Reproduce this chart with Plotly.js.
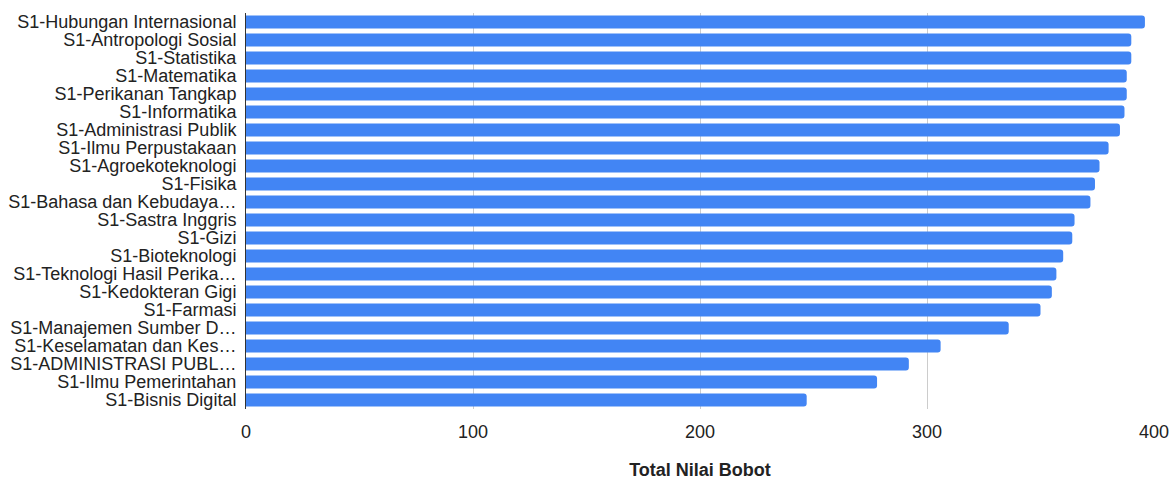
<!DOCTYPE html>
<html>
<head>
<meta charset="utf-8">
<script src="https://cdn.plot.ly/plotly-3.0.1.min.js"></script>
<style>
  html, body { margin: 0; padding: 0; background: #ffffff; }
  #chart { width: 1175px; height: 484px; }
</style>
</head>
<body>
<div id="chart"></div>
<script>
// Study programmes, ranked by total weighted score
const programs = [
  "S1-Hubungan Internasional",
  "S1-Antropologi Sosial",
  "S1-Statistika",
  "S1-Matematika",
  "S1-Perikanan Tangkap",
  "S1-Informatika",
  "S1-Administrasi Publik",
  "S1-Ilmu Perpustakaan",
  "S1-Agroekoteknologi",
  "S1-Fisika",
  "S1-Bahasa dan Kebudaya…",
  "S1-Sastra Inggris",
  "S1-Gizi",
  "S1-Bioteknologi",
  "S1-Teknologi Hasil Perika…",
  "S1-Kedokteran Gigi",
  "S1-Farmasi",
  "S1-Manajemen Sumber D…",
  "S1-Keselamatan dan Kes…",
  "S1-ADMINISTRASI PUBL…",
  "S1-Ilmu Pemerintahan",
  "S1-Bisnis Digital"
];

const totalScores = [
  396, 390, 390, 388, 388, 387, 385, 380, 376, 374, 372,
  365, 364, 360, 357, 355, 350, 336, 306, 292, 278, 247
];

const xTicks = [0, 100, 200, 300, 400];
const xTitle = "Total Nilai Bobot";

const trace = {
  type: "bar",
  orientation: "h",
  x: totalScores,
  y: programs,
  marker: { color: "#4285F4", cornerradius: 3 },
  hoverinfo: "x+y"
};

const layout = {
  width: 1175,
  height: 484,
  margin: { l: 246, r: 21, t: 13, b: 75 },
  paper_bgcolor: "#ffffff",
  plot_bgcolor: "#ffffff",
  bargap: 0.27,
  showlegend: false,
  font: { family: "Liberation Sans, Arial, sans-serif", size: 18, color: "#222222" },
  xaxis: {
    range: [0, 400],
    tickmode: "array",
    tickvals: xTicks,
    ticktext: xTicks.map(String),
    showgrid: true,
    gridcolor: "#cccccc",
    gridwidth: 1,
    zeroline: false,
    showline: false,
    ticks: "",
    ticklabelstandoff: 10,
    tickfont: { size: 18, color: "#222222" },
    title: {
      text: xTitle,
      font: { size: 18, color: "#222222", weight: "bold" },
      standoff: 22
    },
    fixedrange: true
  },
  yaxis: {
    autorange: "reversed",
    type: "category",
    tickmode: "array",
    tickvals: programs,
    ticktext: programs,
    showgrid: false,
    zeroline: false,
    showline: true,
    linecolor: "#333333",
    linewidth: 1,
    ticks: "",
    ticklabelstandoff: 5,
    tickfont: { size: 18, color: "#222222" },
    fixedrange: true
  }
};

Plotly.newPlot("chart", [trace], layout, { displayModeBar: false, staticPlot: true });
</script>
</body>
</html>
